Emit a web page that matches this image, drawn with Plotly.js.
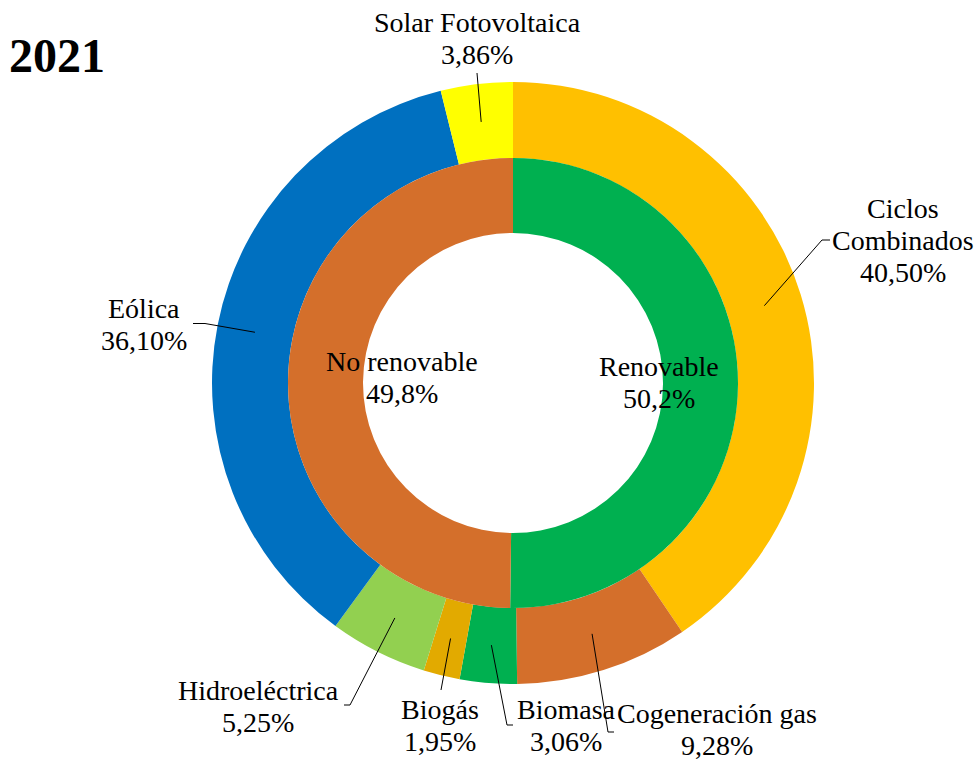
<!DOCTYPE html>
<html><head><meta charset="utf-8">
<script src="https://cdn.plot.ly/plotly-3.0.1.min.js"></script>
<style>html,body{margin:0;padding:0;background:#fff}</style>
</head><body><div id="chart" style="width:979px;height:762px"></div>
<script>
// ---- data ----
const yearTitle = "2021";
const sources = ["Ciclos<br>Combinados", "Cogeneración gas", "Biomasa", "Biogás", "Hidroeléctrica", "Eólica", "Solar Fotovoltaica"];
const shares = [40.50, 9.28, 3.06, 1.95, 5.25, 36.10, 3.86];
const groups = ["Renovable", "No renovable"];
const groupShares = [50.2, 49.8];

// ---- styles / layout ----
const sourceColors = ["#FFC000", "#D46F2B", "#00B050", "#E2AA00", "#92D050", "#0070C0", "#FFFF00"];
const groupColors = ["#00B050", "#D46F2B"];
const W = 979, H = 762;
const cx = 513, cy = 383, R1 = 301, R2 = 225, R3 = 150;
const lineGap = 32;
const outerLabelPos = [[903, 208], [717, 713], [566, 709], [440, 709], [258, 690], [144, 309], [477, 22.5]];
const leaderEnds = [
  [[822, 240], [830, 240]],
  [[608, 732], [614, 732]],
  [[507, 725], [513, 725]],
  [[441, 690]],
  [[350, 705], [344, 705]],
  [[205, 323.5], [193, 323.5]],
  [[477, 73]]
];
const innerLabelPos = [[659, 366], [402, 361]];
const FONT = "Liberation Serif, Times New Roman, serif";

const px = x => x / W, py = y => 1 - y / H;
const fmt = (v, d) => v.toFixed(d).replace('.', ',') + '%';

const outer = {
  type: 'pie', values: shares, labels: sources, sort: false, direction: 'clockwise', rotation: 0,
  hole: R2 / R1, textinfo: 'none', hoverinfo: 'none', showlegend: false,
  marker: {colors: sourceColors, line: {width: 0}},
  domain: {x: [px(cx - R1), px(cx + R1)], y: [py(cy + R1), py(cy - R1)]}
};
const inner = {
  type: 'pie', values: groupShares, labels: groups, sort: false, direction: 'clockwise', rotation: 0,
  hole: R3 / R2, textinfo: 'none', hoverinfo: 'none', showlegend: false,
  marker: {colors: groupColors, line: {width: 0}},
  domain: {x: [px(cx - R2), px(cx + R2)], y: [py(cy + R2), py(cy - R2)]}
};

const annotations = [];
const shapes = [];
const total = shares.reduce((a, b) => a + b, 0);
let cum = 0;
const rMid = (R1 + R2) / 2;
shares.forEach((v, i) => {
  const midFrac = (cum + v / 2) / total;
  cum += v;
  const ang = midFrac * 2 * Math.PI;
  const sx = cx + rMid * Math.sin(ang), sy = cy - rMid * Math.cos(ang);
  let path = `M ${px(sx)} ${py(sy)}`;
  leaderEnds[i].forEach(p => { path += ` L ${px(p[0])} ${py(p[1])}`; });
  shapes.push({type: 'path', xref: 'paper', yref: 'paper', path: path, line: {color: '#000', width: 1}});
  const lines = sources[i].split('<br>').concat([fmt(v, 2)]);
  lines.forEach((t, k) => {
    annotations.push({xref: 'paper', yref: 'paper', x: px(outerLabelPos[i][0]), y: py(outerLabelPos[i][1] + k * lineGap),
      text: t, showarrow: false, xanchor: 'center', yanchor: 'middle', font: {family: FONT, size: 28, color: '#000'}});
  });
});
groups.forEach((g, i) => {
  [g, fmt(groupShares[i], 1)].forEach((t, k) => {
    annotations.push({xref: 'paper', yref: 'paper', x: px(innerLabelPos[i][0]), y: py(innerLabelPos[i][1] + k * lineGap),
      text: t, showarrow: false, xanchor: 'center', yanchor: 'middle', font: {family: FONT, size: 28, color: '#000'}});
  });
});
annotations.push({xref: 'paper', yref: 'paper', x: px(7), y: py(56), text: '<b>' + yearTitle + '</b>', showarrow: false,
  xanchor: 'left', yanchor: 'middle', font: {family: FONT, size: 48, color: '#000'}});

const layout = {
  width: W, height: H, margin: {l: 0, r: 0, t: 0, b: 0},
  paper_bgcolor: '#fff', plot_bgcolor: '#fff',
  annotations: annotations, shapes: shapes, showlegend: false
};
Plotly.newPlot('chart', [outer, inner], layout, {displayModeBar: false, staticPlot: true});
</script>
</body></html>
